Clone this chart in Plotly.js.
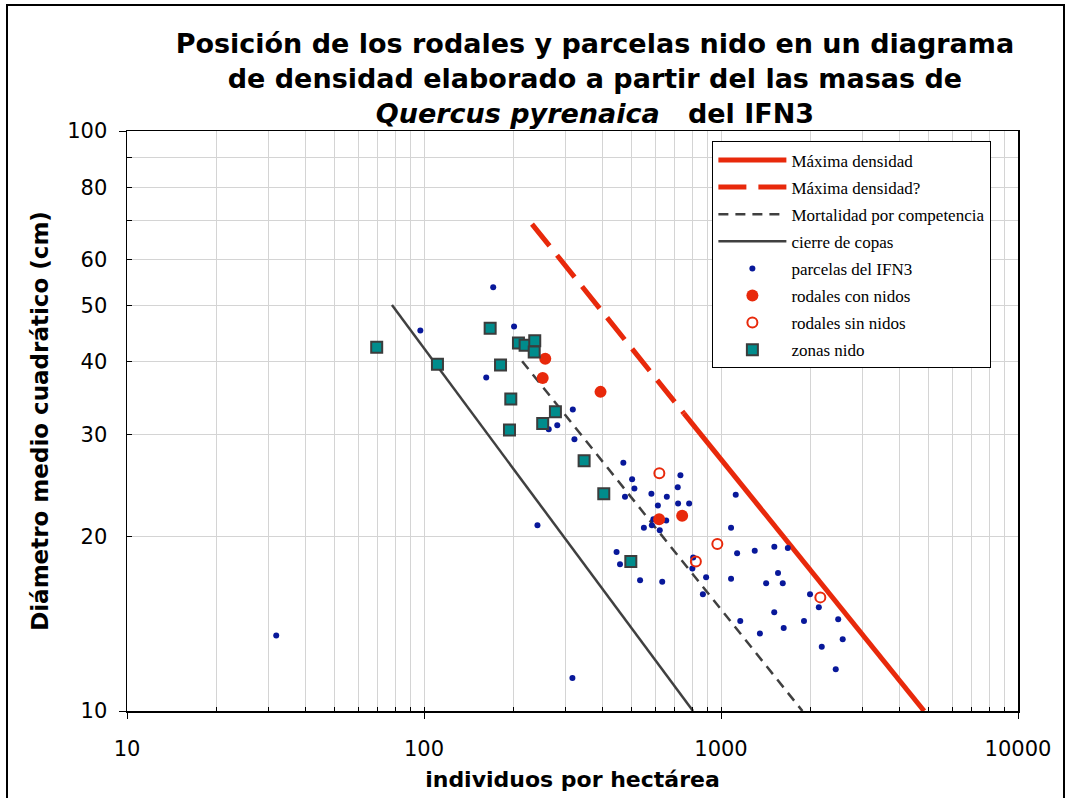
<!DOCTYPE html>
<html><head><meta charset="utf-8">
<script src="https://cdn.plot.ly/plotly-3.0.1.min.js"></script>
<style>
html,body{margin:0;padding:0;background:#fff;overflow:hidden;}
#chart{position:absolute;left:0;top:0;width:1070px;height:798px;}
#frame{position:absolute;left:6px;top:4px;width:1055px;height:830px;border:2px solid #000;pointer-events:none;}
</style></head><body>
<div id="chart"></div><div id="frame"></div>
<script>
// ---- data ----
const maxDensX = [750, 4830];
const maxDensY = [32.6, 10];
const maxDensQX = [231, 750];
const maxDensQY = [69.1, 32.6];
const mortX = [214, 1880];
const mortY = [40.1, 10];
const cierreX = [78, 805];
const cierreY = [50.1, 10];

const ifnX = [31.8, 97.2, 171, 201, 162, 263, 281, 317, 321, 241, 316, 469, 502, 511, 475, 583, 657, 613, 717, 781, 730, 715, 592, 550, 585, 622, 654, 445, 457, 534, 634, 806, 801, 891, 869, 1121, 1081, 1133, 1299, 1512, 1679, 1556, 1614, 1419, 1081, 1161, 1352, 1511, 1626, 1903, 1994, 2135, 2481, 2569, 2184, 2434];
const ifnY = [13.5, 45.3, 53.8, 46.0, 37.6, 30.6, 31.1, 33.1, 29.4, 20.9, 11.4, 26.8, 25.1, 24.2, 23.4, 23.7, 23.4, 22.6, 22.8, 22.8, 25.5, 24.3, 21.4, 20.7, 20.9, 20.5, 21.3, 18.8, 17.9, 16.8, 16.7, 18.4, 17.6, 17.0, 15.9, 23.6, 20.7, 18.7, 18.9, 19.2, 19.1, 17.3, 16.6, 16.6, 16.9, 14.3, 13.6, 14.8, 13.9, 14.3, 15.9, 15.1, 14.4, 13.3, 12.9, 11.8];

const conNidosX = [256, 251, 393, 619, 740];
const conNidosY = [40.5, 37.5, 35.5, 21.4, 21.7];

const sinNidosX = [620, 972, 823, 2160];
const sinNidosY = [25.7, 19.4, 18.1, 15.7];

const zonasX = [69.3, 111, 167, 181, 208, 219, 236, 235, 196, 194, 277, 251, 346, 403, 497];
const zonasY = [42.4, 39.6, 45.7, 39.5, 43.1, 42.7, 43.5, 41.6, 34.5, 30.5, 32.8, 31.3, 27.0, 23.7, 18.1];

const xGridVals = [10,20,30,40,50,60,70,80,90,100,200,300,400,500,600,700,800,900,1000,2000,3000,4000,5000,6000,7000,8000,9000,10000];
const xMajor = [10, 100, 1000, 10000];
const yGridVals = [10,20,30,40,50,60,70,80,90,100];
const yLabelled = [10,20,30,40,50,60,80,100];
const yMajor = [10, 100];

const names = ['Máxima densidad','Máxima densidad?','Mortalidad por competencia','cierre de copas','parcelas del IFN3','rodales con nidos','rodales sin nidos','zonas nido'];

const RED = '#E8290B', GRAY = '#404040';

const traces = [
  {x: maxDensX, y: maxDensY, mode:'lines', name:names[0], legendgroup:'a',
   line:{color:RED, width:5}},
  {x: maxDensQX, y: maxDensQY, mode:'lines', name:names[1], legendgroup:'b',
   line:{color:RED, width:5, dash:'28px,12px'}},
  {x: mortX, y: mortY, mode:'lines', name:names[2], legendgroup:'c',
   line:{color:GRAY, width:2.5, dash:'10px,7px'}},
  {x: cierreX, y: cierreY, mode:'lines', name:names[3], legendgroup:'d',
   line:{color:GRAY, width:2.5}},
  {x: ifnX, y: ifnY, mode:'markers', name:names[4], legendgroup:'e',
   marker:{color:'#08189A', size:6, symbol:'circle'}},
  {x: conNidosX, y: conNidosY, mode:'markers', name:names[5], legendgroup:'f',
   marker:{color:RED, size:12, symbol:'circle'}},
  {x: sinNidosX, y: sinNidosY, mode:'markers', name:names[6], legendgroup:'g',
   marker:{color:'rgba(0,0,0,0)', size:10, symbol:'circle', line:{color:RED, width:2}}},
  {x: zonasX, y: zonasY, mode:'markers', name:names[7], legendgroup:'h',
   marker:{color:'#008C8C', size:11, symbol:'square', line:{color:'#3C3C3C', width:2}}},
  {x: [], y: [], xaxis:'x2', yaxis:'y2', mode:'markers', showlegend:false, hoverinfo:'skip'}
];

const tickFont = {family:'DejaVu Sans, Verdana, sans-serif', size:21, color:'#000'};
const xTitleFont = {family:'DejaVu Sans, Verdana, sans-serif', size:22, color:'#000', weight:'bold'};
const yTitleFont = {family:'DejaVu Sans, Verdana, sans-serif', size:23, color:'#000', weight:'bold'};

const layout = {
  width:1070, height:798,
  paper_bgcolor:'#fff', plot_bgcolor:'#fff',
  margin:{l:127, r:52, t:131, b:87},
  showlegend:true,
  title:{
    text:'Posición de los rodales y parcelas nido en un diagrama<br>de densidad elaborado a partir del las masas de<br><i>Quercus pyrenaica</i>\u00a0\u00a0\u00a0del IFN3',
    x:0.556, xanchor:'center', y:0.934, yanchor:'top',
    font:{family:'DejaVu Sans, Verdana, sans-serif', size:27, color:'#000', weight:'bold'}
  },
  xaxis:{
    type:'log', range:[1,4],
    tickmode:'array', tickvals:xGridVals,
    ticktext:xGridVals.map(v => xMajor.includes(v) ? String(v) : ''),
    ticks:'inside', ticklen:4, tickcolor:'#000', tickwidth:1,
    showgrid:true, gridcolor:'#D4D4D4', gridwidth:1,
    showline:true, linecolor:'#000', linewidth:1.5, mirror:true,
    zeroline:false, tickfont:tickFont, ticklabelstandoff:18,
    title:{text:'individuos por hectárea', font:xTitleFont, standoff:12}
  },
  yaxis:{
    type:'log', range:[1,2],
    tickmode:'array', tickvals:yGridVals,
    ticktext:yGridVals.map(v => yLabelled.includes(v) ? String(v) : ''),
    ticks:'inside', ticklen:5, tickcolor:'#000', tickwidth:1,
    showgrid:true, gridcolor:'#D4D4D4', gridwidth:1,
    showline:true, linecolor:'#000', linewidth:1.5, mirror:true,
    zeroline:false, tickfont:tickFont, ticklabelstandoff:14,
    title:{text:'Diámetro medio cuadrático (cm)', font:yTitleFont, standoff:12}
  },
  xaxis2:{
    type:'log', range:[1,4], overlaying:'x', side:'bottom',
    tickmode:'array', tickvals:xMajor, ticks:'outside', ticklen:7, tickcolor:'#000', tickwidth:1,
    showticklabels:false, showgrid:false, showline:false, zeroline:false
  },
  yaxis2:{
    type:'log', range:[1,2], overlaying:'y', side:'left',
    tickmode:'array', tickvals:yMajor, ticks:'outside', ticklen:7, tickcolor:'#000', tickwidth:1,
    showticklabels:false, showgrid:false, showline:false, zeroline:false
  },
  legend:{
    x:0.657, xanchor:'left', y:0.982, yanchor:'top',
    bgcolor:'#fff', bordercolor:'#000', borderwidth:1,
    font:{family:'Liberation Serif, Times New Roman, serif', size:17, color:'#000'},
    traceorder:'grouped', tracegroupgap:2, itemwidth:68
  }
};

Plotly.newPlot('chart', traces, layout, {displayModeBar:false, staticPlot:true});
</script></body></html>
